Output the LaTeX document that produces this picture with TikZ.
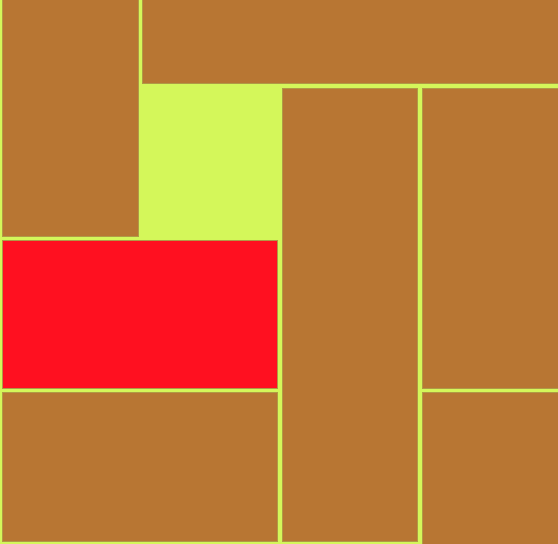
\documentclass[tikz,border=0pt]{standalone}
\definecolor{bgg}{HTML}{D4F75A}
\definecolor{blk}{HTML}{B87633}
\definecolor{redb}{HTML}{FF1020}
\definecolor{edge}{HTML}{B09A45}
\begin{document}
\begin{tikzpicture}[x=1pt,y=-1pt,
  piece/.style={fill=blk,draw=edge,line width=0.7pt},
  goal/.style={fill=redb,draw=edge,line width=0.7pt}]
\fill[bgg] (0,0) rectangle (558,544);
\useasboundingbox (0,0) rectangle (558,544);
\path[piece] (2,-2) rectangle (138,236);
\path[piece] (142,-2) rectangle (560,83);
\path[piece] (282,88.5) rectangle (417.5,541.5);
\path[piece] (422,88.5) rectangle (560,388);
\path[piece] (422,392.5) rectangle (560,546);
\path[goal] (2,240.5) rectangle (277.5,388);
\path[piece] (2,392.5) rectangle (277.5,541);
\end{tikzpicture}
\end{document}
